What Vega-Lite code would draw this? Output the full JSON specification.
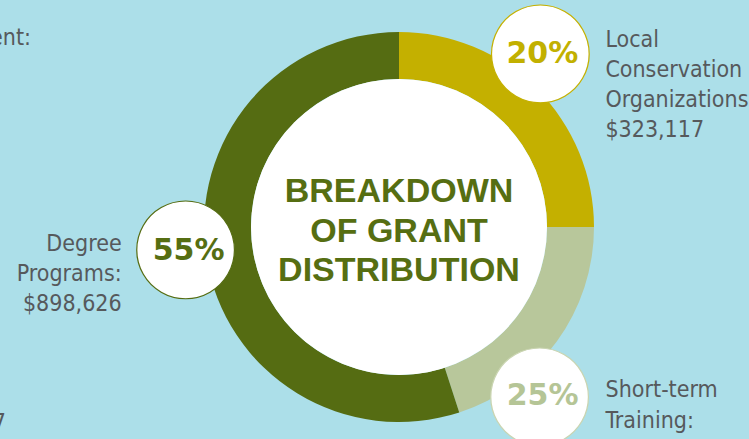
{
  "$schema": "https://vega.github.io/schema/vega-lite/v6.json",
  "width": 700,
  "height": 424,
  "autosize": {"type": "none"},
  "padding": {"left": 49, "top": 15, "right": 0, "bottom": 0},
  "background": "#acdfe9",
  "config": {"view": {"stroke": null}},
  "datasets": {
    "grants": [
      {"cat": "Local Conservation Organizations", "ord": 1, "share": 25, "pct": "20%", "label": ["Local", "Conservation", "Organizations:", "$323,117"]},
      {"cat": "Short-term Training", "ord": 2, "share": 20, "pct": "25%", "label": ["Short-term", "Training:"]},
      {"cat": "Degree Programs", "ord": 3, "share": 55, "pct": "55%", "label": ["Degree", "Programs:", "$898,626"]}
    ],
    "title": [{"t": ["BREAKDOWN", "OF GRANT", "DISTRIBUTION"]}],
    "cut1": [{"t": "ent:"}],
    "cut2": [{"t": "7"}]
  },
  "layer": [
    {
      "data": {"name": "grants"},
      "encoding": {
        "theta": {"field": "share", "type": "quantitative", "stack": true},
        "order": {"field": "ord", "type": "quantitative"}
      },
      "layer": [
        {
          "mark": {"type": "arc", "innerRadius": 148, "outerRadius": 195},
          "encoding": {
            "color": {"field": "cat", "type": "nominal", "legend": null,
              "scale": {"domain": ["Local Conservation Organizations", "Short-term Training", "Degree Programs"], "range": ["#c4b000", "#b8c79b", "#556c12"]}}
          }
        }
      ]
    },
    {
      "data": {"values": [{"d": 1}]},
      "mark": {"type": "arc", "outerRadius": 148, "innerRadius": 0, "theta": 0, "theta2": 6.2832, "fill": "white"},
      "encoding": {}
    },
    {
      "data": {"name": "grants"},
      "encoding": {
        "theta": {"field": "share", "type": "quantitative", "stack": true},
        "order": {"field": "ord", "type": "quantitative"}
      },
      "layer": [
        {"mark": {"type": "text", "radius": 224, "dx": -17, "dy": -20, "font": "DejaVu Sans", "fontSize": 128, "align": "center", "baseline": "middle", "fill": "white", "stroke": "#c4b000", "strokeWidth": 1.2},
         "encoding": {"text": {"condition": {"test": "datum.ord === 1", "value": "●"}, "value": ""}}},
        {"mark": {"type": "text", "radius": 222, "dx": -39, "dy": 35, "font": "DejaVu Sans", "fontSize": 128, "align": "center", "baseline": "middle", "fill": "white", "stroke": "#c9d4b0", "strokeWidth": 1.2},
         "encoding": {"text": {"condition": {"test": "datum.ord === 2", "value": "●"}, "value": ""}}},
        {"mark": {"type": "text", "radius": 215, "dx": -1, "dy": -16, "font": "DejaVu Sans", "fontSize": 128, "align": "center", "baseline": "middle", "fill": "white", "stroke": "#556c12", "strokeWidth": 1.2},
         "encoding": {"text": {"condition": {"test": "datum.ord === 3", "value": "●"}, "value": ""}}},
        {"mark": {"type": "text", "radius": 224, "dx": -15, "dy": -6, "font": "DejaVu Sans", "fontWeight": "bold", "fontSize": 30, "align": "center", "baseline": "alphabetic", "fill": "#c2b000"},
         "encoding": {"text": {"condition": {"test": "datum.ord === 1", "field": "pct"}, "value": ""}}},
        {"mark": {"type": "text", "radius": 222, "dx": -36, "dy": 48, "font": "DejaVu Sans", "fontWeight": "bold", "fontSize": 30, "align": "center", "baseline": "alphabetic", "fill": "#b5c596"},
         "encoding": {"text": {"condition": {"test": "datum.ord === 2", "field": "pct"}, "value": ""}}},
        {"mark": {"type": "text", "radius": 215, "dx": 2, "dy": -1, "font": "DejaVu Sans", "fontWeight": "bold", "fontSize": 30, "align": "center", "baseline": "alphabetic", "fill": "#566e12"},
         "encoding": {"text": {"condition": {"test": "datum.ord === 3", "field": "pct"}, "value": ""}}},
        {"mark": {"type": "text", "radius": 224, "dx": 48, "dy": -22, "font": "DejaVu Sans Condensed", "fontSize": 23, "lineHeight": 30.3, "align": "left", "baseline": "alphabetic", "fill": "#56595c"},
         "encoding": {"text": {"condition": {"test": "datum.ord === 1", "field": "label"}, "value": ""}}},
        {"mark": {"type": "text", "radius": 222, "dx": 27, "dy": 40, "font": "DejaVu Sans Condensed", "fontSize": 23, "lineHeight": 30.3, "align": "left", "baseline": "alphabetic", "fill": "#56595c"},
         "encoding": {"text": {"condition": {"test": "datum.ord === 2", "field": "label"}, "value": ""}}},
        {"mark": {"type": "text", "radius": 215, "dx": -65, "dy": -10, "font": "DejaVu Sans Condensed", "fontSize": 23, "lineHeight": 30.3, "align": "right", "baseline": "alphabetic", "fill": "#56595c"},
         "encoding": {"text": {"condition": {"test": "datum.ord === 3", "field": "label"}, "value": ""}}}
      ]
    },
    {
      "data": {"name": "title"},
      "mark": {"type": "text", "dy": -25, "font": "Liberation Sans", "fontWeight": "bold", "fontSize": 34, "lineHeight": 39.5, "align": "center", "baseline": "alphabetic", "fill": "#566e12"},
      "encoding": {"text": {"field": "t"}}
    },
    {
      "data": {"name": "cut1"},
      "mark": {"type": "text", "dx": -368, "dy": -182, "font": "DejaVu Sans Condensed", "fontSize": 23, "align": "right", "baseline": "alphabetic", "fill": "#56595c"},
      "encoding": {"text": {"field": "t"}}
    },
    {
      "data": {"name": "cut2"},
      "mark": {"type": "text", "dx": -393, "dy": 203, "font": "DejaVu Sans Condensed", "fontSize": 23, "align": "right", "baseline": "alphabetic", "fill": "#56595c"},
      "encoding": {"text": {"field": "t"}}
    }
  ]
}
